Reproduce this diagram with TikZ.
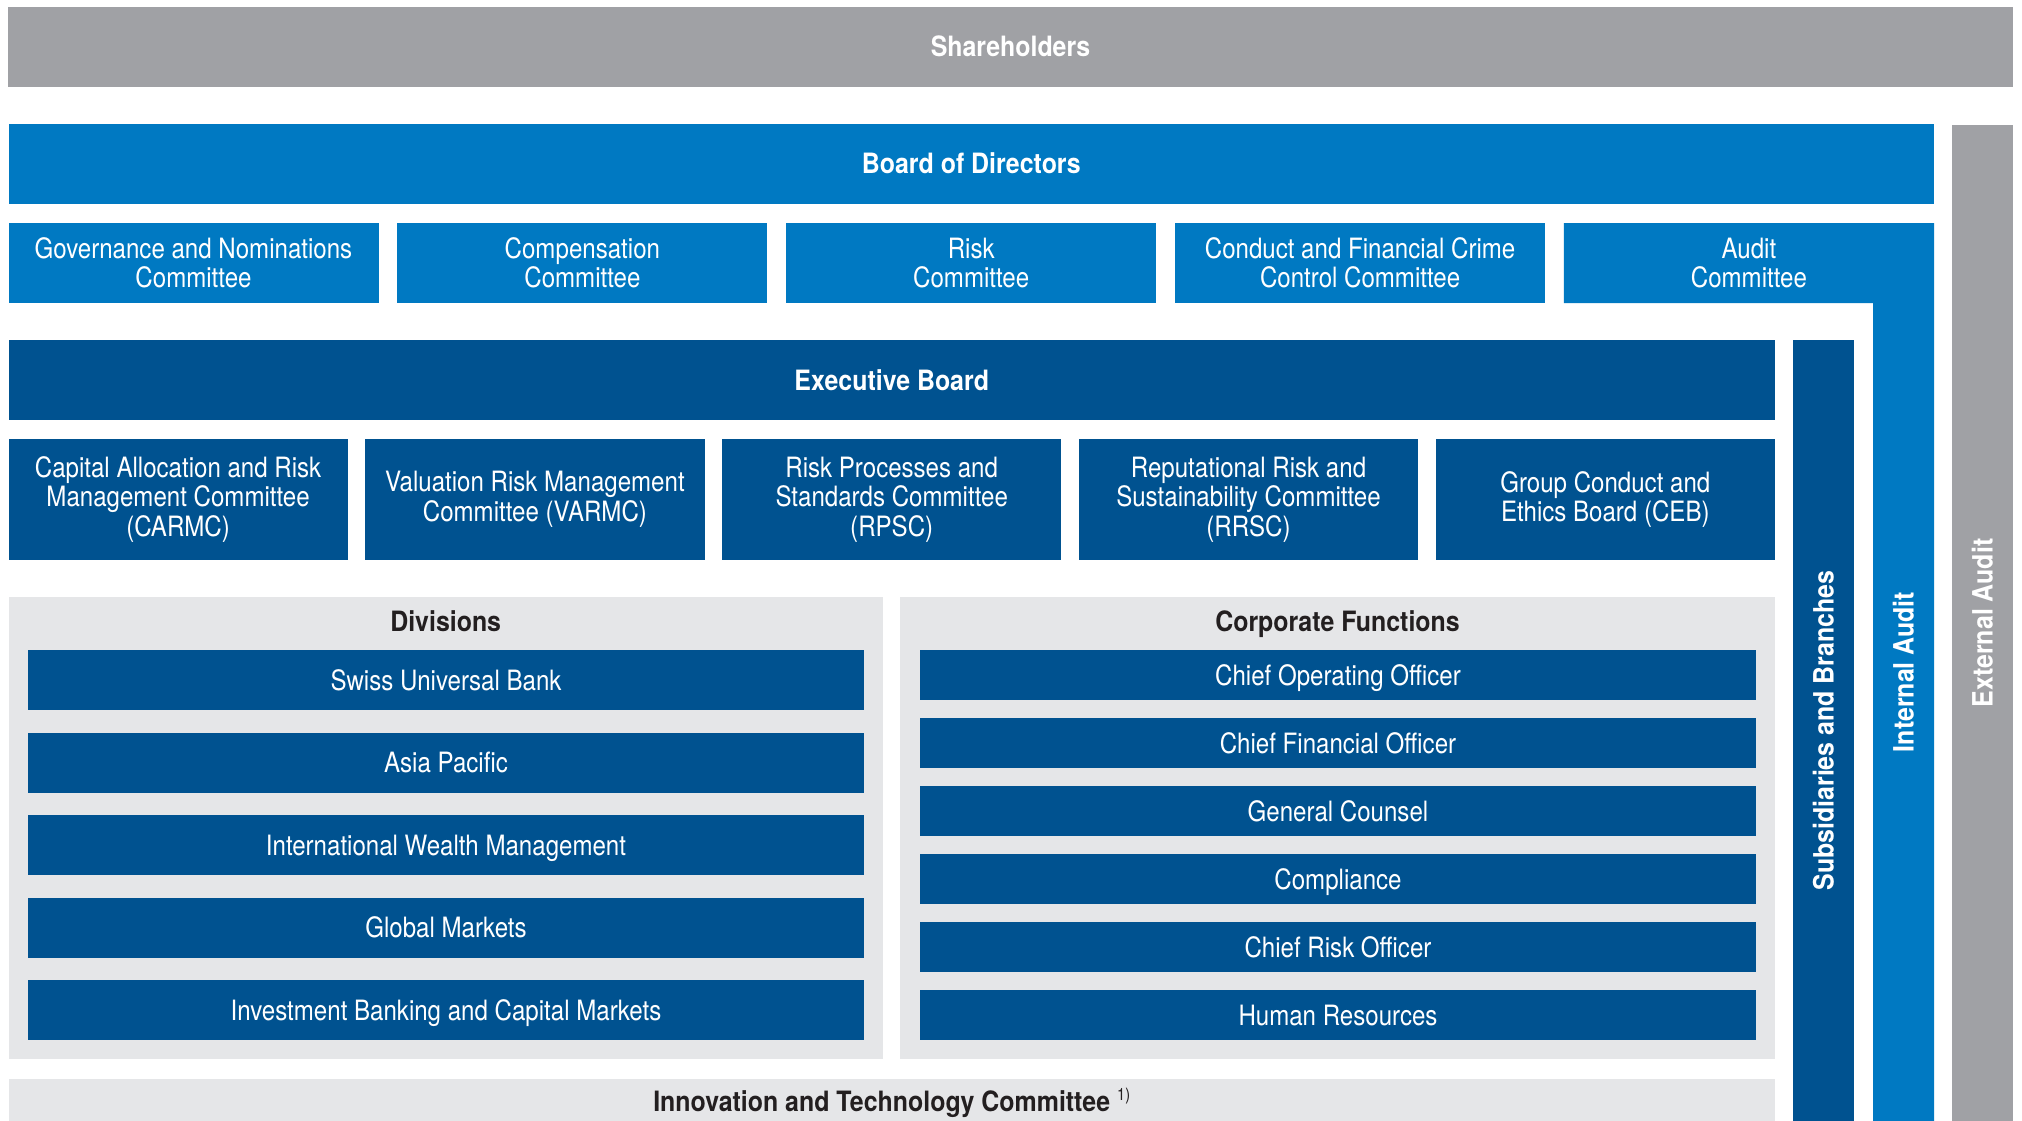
\documentclass[tikz,border=0pt]{standalone}
\usepackage{fontspec}
\setmainfont{TeX Gyre Heros}
\newfontfamily\boxfont[FakeStretch=0.86]{TeX Gyre Heros}
\newfontfamily\headfont[FakeStretch=0.89]{TeX Gyre Heros}

\definecolor{shgray}{HTML}{A0A1A5}
\definecolor{boardblue}{HTML}{0079C2}
\definecolor{execblue}{HTML}{005290}
\definecolor{panelgray}{HTML}{E5E6E8}
\definecolor{titleink}{HTML}{231F20}

\tikzset{
  block/.style={rectangle, inner sep=0pt, outer sep=0pt, anchor=north west,
    text=white, align=center, font=\fontsize{28}{29.5}\selectfont\boxfont},
  oneline/.style={text height=20pt, text depth=0pt},
  headblock/.style={block, oneline, font=\fontsize{28}{30}\selectfont\headfont\bfseries},
  boardbox/.style={block, fill=boardblue},
  execbox/.style={block, fill=execblue},
  panel/.style={rectangle, inner sep=0pt, anchor=north west, fill=panelgray},
  paneltitle/.style={oneline, inner sep=0pt, text=titleink, font=\fontsize{28}{30}\selectfont\headfont\bfseries},
  sidelabel/.style={rotate=90, oneline, inner sep=0pt, text=white, font=\fontsize{28}{30}\selectfont\headfont\bfseries},
}

\begin{document}
\begin{tikzpicture}[x=1pt, y=-1pt]
\useasboundingbox (0,0) rectangle (2022,1121);

% Shareholders
\node[headblock, fill=shgray, minimum width=2005pt, minimum height=80pt] (sh) at (8,7) {Shareholders};

% External audit column
\path[fill=shgray] (1952,125) rectangle (2013,1121);
\node[sidelabel] (ext) at (1982.5,623) {External Audit};

% Board of Directors
\node[headblock, fill=boardblue, minimum width=1925.5pt, minimum height=80pt] (bod) at (8.5,124) {Board of Directors};

% Board committees
\node[boardbox, minimum width=370pt, minimum height=80pt] (gnc) at (8.5,223) {Governance and Nominations\\Committee};
\node[boardbox, minimum width=370pt, minimum height=80pt] (cc) at (397.4,223) {Compensation\\Committee};
\node[boardbox, minimum width=370pt, minimum height=80pt] (rc) at (786.2,223) {Risk\\Committee};
\node[boardbox, minimum width=370pt, minimum height=80pt] (cfcc) at (1175.1,223) {Conduct and Financial Crime\\Control Committee};

% Audit Committee joined with the Internal Audit column
\path[fill=boardblue] (1563.9,223) -- (1934,223) -- (1934,1121) -- (1873,1121) -- (1873,303) -- (1563.9,303) -- cycle;
\node[block, anchor=center] (ac) at (1748.9,263) {Audit\\Committee};
\node[sidelabel] (ia) at (1903.5,672) {Internal Audit};

% Subsidiaries and Branches column
\path[fill=execblue] (1793,340) rectangle (1854,1121);
\node[sidelabel] (sub) at (1823.5,730.5) {Subsidiaries and Branches};

% Executive Board
\node[headblock, fill=execblue, minimum width=1766.5pt, minimum height=80pt] (eb) at (8.5,340) {Executive Board};

% Executive Board committees
\node[execbox, minimum width=339.2pt, minimum height=121pt] (carmc) at (8.5,439) {Capital Allocation and Risk\\Management Committee\\(CARMC)};
\node[execbox, minimum width=339.2pt, minimum height=121pt] (varmc) at (365.3,439) {Valuation Risk Management\\Committee (VARMC)};
\node[execbox, minimum width=339.2pt, minimum height=121pt] (rpsc) at (722.1,439) {Risk Processes and\\Standards Committee\\(RPSC)};
\node[execbox, minimum width=339.2pt, minimum height=121pt] (rrsc) at (1078.9,439) {Reputational Risk and\\Sustainability Committee\\(RRSC)};
\node[execbox, minimum width=339.2pt, minimum height=121pt] (ceb) at (1435.7,439) {Group Conduct and\\Ethics Board (CEB)};

% Divisions
\node[panel, minimum width=874.5pt, minimum height=462pt] (div) at (8.5,597) {};
\node[paneltitle] (divt) at (445.7,621) {Divisions};
\foreach \lbl [count=\i from 0] in {Swiss Universal Bank, Asia Pacific, International Wealth Management, Global Markets, Investment Banking and Capital Markets}
  \node[execbox, oneline, minimum width=836pt, minimum height=60pt] (div\i) at (28,650+82.5*\i) {\lbl};

% Corporate Functions
\node[panel, minimum width=875pt, minimum height=462pt] (cf) at (900,597) {};
\node[paneltitle] (cft) at (1337.5,621) {Corporate Functions};
\foreach \lbl [count=\i from 0] in {Chief Operating Officer, Chief Financial Officer, General Counsel, Compliance, Chief Risk Officer, Human Resources}
  \node[execbox, oneline, minimum width=836pt, minimum height=50pt] (cf\i) at (920,650+68*\i) {\lbl};

% Innovation and Technology Committee
\node[panel, minimum width=1766.5pt, minimum height=42pt] (itc) at (8.5,1079) {};
\node[paneltitle, anchor=base] (itct) at (891.7,1111) {Innovation and Technology Committee\hspace{7pt}{\fontsize{17}{17}\selectfont\boxfont\mdseries\raisebox{11pt}{1)}}};
\end{tikzpicture}
\end{document}
